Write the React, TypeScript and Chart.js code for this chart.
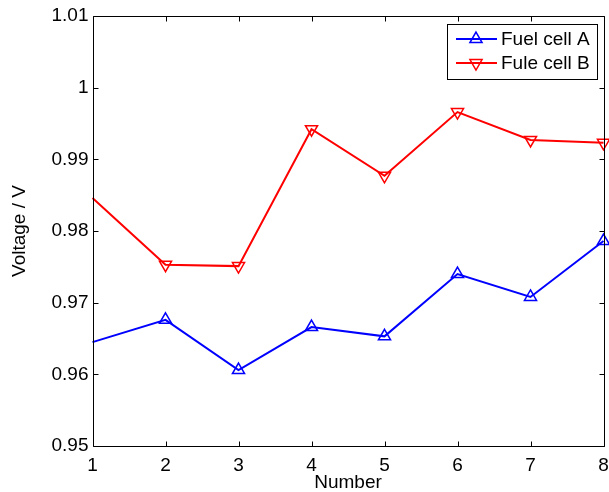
import React, { useEffect, useRef } from "react";
import { Chart, registerables } from "chart.js";

Chart.register(...registerables);

const numbers = [1, 2, 3, 4, 5, 6, 7, 8];
const fuelCellA = [0.9645, 0.9676, 0.9606, 0.9666, 0.9653, 0.974, 0.9708, 0.9786];
const fuleCellB = [0.9846, 0.9753, 0.9751, 0.9942, 0.9877, 0.9966, 0.9927, 0.9923];
const seriesLabels = ["Fuel cell A", "Fule cell B"];
const yTicks = [0.95, 0.96, 0.97, 0.98, 0.99, 1.0, 1.01];

const FONT = "'Liberation Sans', Arial, Helvetica, sans-serif";
const markerRadius = numbers.map((_, i) => (i === 0 ? 0 : 7));

const boxPlugin = {
  id: "matlabBox",
  afterDraw(chart: any) {
    const { ctx, chartArea } = chart;
    const { left, right, top, bottom } = chartArea;
    const xs = chart.scales.x;
    const ys = chart.scales.y;
    ctx.save();
    ctx.strokeStyle = "#000";
    ctx.lineWidth = 1;
    ctx.beginPath();
    const L = Math.round(left) + 0.5;
    const R = Math.round(right) + 0.5;
    const T = Math.round(top) + 0.5;
    const B = Math.round(bottom) + 0.5;
    ctx.rect(L, T, R - L, B - T);
    const tl = 5;
    numbers.forEach((n) => {
      const px = Math.round(xs.getPixelForValue(n)) + 0.5;
      ctx.moveTo(px, B);
      ctx.lineTo(px, B - tl);
      ctx.moveTo(px, T);
      ctx.lineTo(px, T + tl);
    });
    yTicks.forEach((v) => {
      const py = Math.round(ys.getPixelForValue(v)) + 0.5;
      ctx.moveTo(L, py);
      ctx.lineTo(L + tl, py);
      ctx.moveTo(R, py);
      ctx.lineTo(R - tl, py);
    });
    ctx.stroke();

    // legend
    const bx = 447.5, by = 24.5, bw = 150, bh = 55;
    ctx.fillStyle = "#fff";
    ctx.fillRect(bx, by, bw, bh);
    ctx.strokeRect(bx, by, bw, bh);
    const rows = [39, 63];
    chart.data.datasets.forEach((ds: any, i: number) => {
      const y = rows[i];
      ctx.strokeStyle = ds.borderColor;
      ctx.lineWidth = 2;
      ctx.beginPath();
      ctx.moveTo(456, y);
      ctx.lineTo(497, y);
      ctx.stroke();
      ctx.lineWidth = 1.5;
      ctx.beginPath();
      const r = 7;
      const rot = ds.pointRotation || 0;
      let rad = (rot * Math.PI) / 180;
      ctx.moveTo(476 + Math.sin(rad) * r, y - Math.cos(rad) * r);
      rad += (2 * Math.PI) / 3;
      ctx.lineTo(476 + Math.sin(rad) * r, y - Math.cos(rad) * r);
      rad += (2 * Math.PI) / 3;
      ctx.lineTo(476 + Math.sin(rad) * r, y - Math.cos(rad) * r);
      ctx.closePath();
      ctx.stroke();
      ctx.fillStyle = "#000";
      ctx.font = `19px ${FONT}`;
      ctx.textBaseline = "middle";
      ctx.textAlign = "left";
      ctx.fillText(ds.label, 501, y + 1);
    });
    ctx.restore();
  },
};

export default function App() {
  const ref = useRef<HTMLCanvasElement>(null);
  useEffect(() => {
    const chart = new Chart(ref.current!, {
      type: "line",
      data: {
        datasets: [
          {
            label: seriesLabels[0],
            data: numbers.map((n, i) => ({ x: n, y: fuelCellA[i] })),
            borderColor: "#0000ff",
            backgroundColor: "rgba(0,0,0,0)",
            borderWidth: 2,
            clip: false,
            pointStyle: "triangle",
            pointRadius: markerRadius,
            pointBorderWidth: 1.5,
            pointBorderColor: "#0000ff",
            pointBackgroundColor: "rgba(0,0,0,0)",
            pointRotation: 0,
          },
          {
            label: seriesLabels[1],
            data: numbers.map((n, i) => ({ x: n, y: fuleCellB[i] })),
            borderColor: "#ff0000",
            backgroundColor: "rgba(0,0,0,0)",
            borderWidth: 2,
            clip: false,
            pointStyle: "triangle",
            pointRadius: markerRadius,
            pointBorderWidth: 1.5,
            pointBorderColor: "#ff0000",
            pointBackgroundColor: "rgba(0,0,0,0)",
            pointRotation: 180,
          },
        ],
      },
      options: {
        animation: false,
        responsive: false,
        devicePixelRatio: 1,
        layout: { autoPadding: false, padding: { top: 16, right: 5.5, left: 0, bottom: 0 } },
        plugins: { legend: { display: false }, tooltip: { enabled: false } },
        scales: {
          x: {
            type: "linear",
            min: 1,
            max: 8,
            afterFit: (s: any) => {
              s.height = 46;
              s.paddingLeft = 0;
              s.paddingRight = 0;
            },
            afterBuildTicks: (s: any) => {
              s.ticks = numbers.map((v) => ({ value: v }));
            },
            border: { display: false },
            grid: { display: false, drawTicks: false },
            ticks: {
              padding: 8,
              color: "#000",
              font: { family: FONT, size: 19 },
              maxRotation: 0,
              autoSkip: false,
            },
            title: {
              display: true,
              text: "Number",
              color: "#000",
              font: { family: FONT, size: 19 },
              padding: { top: 0, bottom: -2.5 },
            },
          },
          y: {
            type: "linear",
            min: 0.95,
            max: 1.01,
            afterFit: (s: any) => {
              s.width = 92.5;
              s.paddingTop = 0;
              s.paddingBottom = 0;
            },
            afterBuildTicks: (s: any) => {
              s.ticks = yTicks.map((v) => ({ value: v }));
            },
            border: { display: false },
            grid: { display: false, drawTicks: false },
            ticks: {
              padding: 4,
              color: "#000",
              font: { family: FONT, size: 19 },
              callback: (v: any) => String(Number(Number(v).toFixed(2))),
            },
            title: {
              display: true,
              text: "Voltage / V",
              color: "#000",
              font: { family: FONT, size: 19 },
              padding: { top: 8.5, bottom: 0 },
            },
          },
        },
      },
      plugins: [boxPlugin],
    });
    return () => chart.destroy();
  }, []);
  return (
    <div style={{ position: "fixed", left: 0, top: 0, width: 609, height: 492, background: "#fff" }}>
      <canvas ref={ref} width={609} height={492} style={{ width: 609, height: 492 }} />
    </div>
  );
}
